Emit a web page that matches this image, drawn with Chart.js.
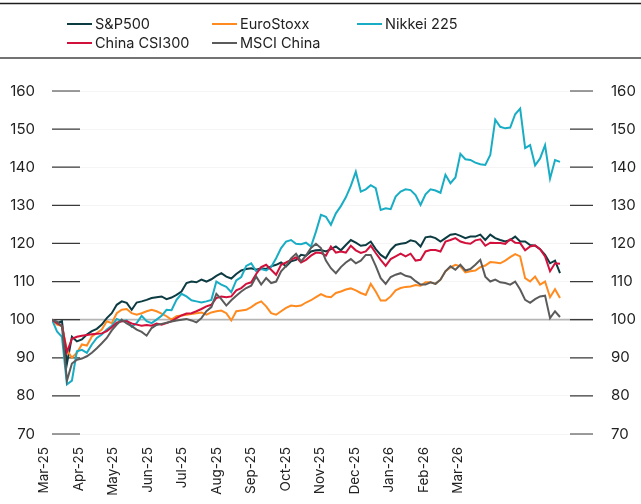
<!DOCTYPE html>
<html>
<head>
<meta charset="utf-8">
<script src="https://cdn.jsdelivr.net/npm/chart.js@4/dist/chart.umd.min.js"></script>
<style>
  html, body { margin: 0; padding: 0; background: #fff; }
  #wrap { width: 641px; height: 504px; }
</style>
</head>
<body>
<div id="wrap"><canvas id="chart" width="641" height="504"></canvas></div>
<script>
// months shown on the axis, Mar-25 .. Mar-26
const monthLabels = ['Mar-25', 'Apr-25', 'May-25', 'Jun-25', 'Jul-25', 'Aug-25', 'Sep-25',
  'Oct-25', 'Nov-25', 'Dec-25', 'Jan-26', 'Feb-26', 'Mar-26'];
const yTicks = [70, 80, 90, 100, 110, 120, 130, 140, 150, 160];

// indexed to 100
const sp500 = [100, 99.1, 99.6, 88.5, 95.5, 94.3, 94.8, 96.1, 97, 97.6, 98.7, 100.4, 101.7, 103.9, 104.8,
  104.4, 102.6, 104.5, 104.8, 105.2, 105.7, 105.9, 106.1, 105.4, 105.8, 106.5, 107.4, 109.6, 110, 109.8,
  110.5, 110, 110.6, 111.5, 112.2, 111.3, 110.8, 112, 112.9, 113.3, 113.5, 113.1, 113.5, 113.3, 114,
  114.4, 115, 114, 115.3, 115.7, 117, 116.8, 117.9, 118.2, 118.3, 117.9, 118.5, 119.2, 118.2, 119.6,
  120.9, 120.2, 119.4, 119.6, 120.5, 118.5, 117, 116.1, 118.3, 119.6, 119.9, 120.1, 120.8, 120.5, 119.2,
  121.6, 121.8, 121.4, 120.5, 121.4, 122.3, 122.5, 122, 121.4, 121.8, 121.8, 122.3, 120.9, 122.3, 121.4,
  120.9, 120.5, 120.9, 121.8, 120.5, 120.5, 119.6, 119.4, 118.5, 117, 114.8, 115.5, 112.2];
const euroStoxx = [100, 98.7, 98.3, 92, 90, 91.3, 93.5, 93.2, 95.6, 96.5, 97.4, 99.6, 99.1, 101.7, 102.6,
  102.8, 101.7, 101.3, 101.7, 102.2, 102.6, 102.2, 101.6, 100.9, 100, 100.9, 101.1, 101.3, 101.5, 101.7,
  101.9, 101.3, 101.9, 102.2, 102.4, 101.7, 99.8, 102.2, 102.4, 102.6, 103.3, 104.2, 104.8, 103.5, 101.7,
  101.3, 102.2, 103.1, 103.7, 103.5, 103.7, 104.5, 105.1, 105.9, 106.7, 106.1, 105.9, 107, 107.4, 107.9,
  108.2, 107.7, 107, 106.5, 109.4, 107.4, 105, 105, 106.1, 107.7, 108.3, 108.6, 108.7, 109.1, 108.9,
  109.8, 109.8, 109.4, 110.5, 112.7, 113.7, 114.4, 114, 112.4, 112.7, 112.9, 113.8, 114.2, 115.1, 115,
  114.8, 115.5, 116.4, 117.2, 116.6, 110.9, 110, 111.3, 109.2, 110, 105.9, 108, 105.7];
const nikkei = [100, 96.9, 95.5, 83, 84, 91.7, 92.1, 91.3, 93.5, 95.2, 96.1, 97.4, 98.4, 100.2, 99.6,
  99.8, 98.1, 99.1, 101, 99.6, 99.1, 100, 101, 102.6, 102.5, 105.2, 106.8, 106.1, 105.1, 104.8,
  104.5, 104.8, 105.2, 110, 109.2, 108.6, 107.2, 110.3, 111.2, 114.1, 114.8, 112.7, 113.3, 112.9, 113.8,
  116.1, 118.8, 120.5, 120.9, 119.9, 119.8, 120.2, 119.2, 123.1, 127.5, 127, 124.9, 127.9, 129.8, 132.1,
  135.1, 138.8, 133.6, 134.2, 135.3, 134.5, 128.8, 129.2, 129, 132.3, 133.6, 134.2, 134, 132.7, 130.1,
  132.9, 134.2, 133.9, 133.3, 138, 135.8, 137.3, 143.5, 142.1, 141.9, 141.2, 140.8, 140.6, 143.2, 152.5,
  150.6, 150.2, 150.4, 153.9, 155.4, 145, 145.8, 140.5, 142.3, 145.8, 137, 141.9, 141.4];
const csi300 = [100, 99.1, 98.4, 91.5, 95, 95.5, 95.8, 96, 96.2, 96.3, 96.4, 97, 98, 99.2, 99.6,
  99.6, 99, 98.7, 98.4, 98.6, 98.4, 99, 98.7, 99.1, 99.6, 100.4, 101.1, 101.6, 101.7, 102.2,
  102.8, 103.5, 103.9, 105.7, 106.1, 105.9, 106.1, 107.7, 108.3, 109.4, 109.8, 112, 113.8, 114.4, 113.1,
  111.8, 114.4, 115, 115.7, 116.4, 115, 115.7, 116.8, 117.6, 117.5, 116.8, 119.2, 117.6, 117.9, 117.6,
  119.4, 118.2, 117.5, 117.9, 119.4, 117.5, 115.7, 114.1, 115.9, 116.6, 117.3, 116.6, 117.3, 115.5, 115.7,
  117.9, 118.3, 118.3, 117.9, 120.5, 120.9, 121.4, 120.5, 120.1, 119.9, 120.8, 121.1, 119.4, 120.2, 120.1,
  120.1, 119.9, 121.1, 120.2, 120.1, 118.2, 119.2, 119.5, 118.5, 116.6, 112.7, 114.8, 114.7];
const msciChina = [100, 99.5, 98.2, 84, 88.5, 89.5, 89.8, 90.4, 91.3, 92.5, 93.8, 95.2, 97.2, 98.7, 100,
  99, 98.3, 97.4, 96.8, 95.8, 97.8, 98.6, 98.9, 99.2, 99.5, 99.8, 100, 100.2, 99.8, 99.3,
  100.4, 102.2, 103.3, 106.8, 105.4, 103.7, 105.1, 106.3, 107.4, 108.3, 108.9, 111.3, 109.2, 110.9, 109.6,
  110, 112.7, 114.1, 116.1, 117.3, 115.3, 116.8, 118.8, 119.9, 118.8, 115.5, 113.5, 112.2, 113.8, 115,
  115.9, 114.8, 115.5, 117, 117, 114.1, 110.9, 109.4, 111.2, 111.8, 112.2, 111.5, 111.2, 110.1, 109.2,
  109.2, 109.8, 109.4, 110.5, 112.7, 114, 113.1, 114.4, 112.9, 113.3, 114.4, 115.7, 111.3, 110, 110.5,
  109.8, 109.6, 109.2, 110, 107.9, 105.2, 104.4, 105.4, 106.1, 106.3, 100.4, 102.2, 100.7];

const series = [
  { label: 'S&P500', data: sp500, color: '#0c3b42' },
  { label: 'EuroStoxx', data: euroStoxx, color: '#ff8a1f' },
  { label: 'Nikkei 225', data: nikkei, color: '#18adc4' },
  { label: 'China CSI300', data: csi300, color: '#d2103c' },
  { label: 'MSCI China', data: msciChina, color: '#5b5b5b' }
];

const FONT = 'Inter, "Liberation Sans", Arial, sans-serif';
const TEXT = '#222';

// legend box, baseline at 100 and the little tick stubs on both sides
const decorPlugin = {
  id: 'decor',
  beforeDatasetsDraw(c) {
    const ctx = c.ctx;
    const y = c.scales.y;
    const area = c.chartArea;
    ctx.save();
    const y100 = y.getPixelForValue(100);
    ctx.strokeStyle = '#b5b5b5';
    ctx.lineWidth = 1.6;
    ctx.beginPath();
    ctx.moveTo(area.left, y100);
    ctx.lineTo(area.right, y100);
    ctx.stroke();
    ctx.strokeStyle = '#3a3a3a';
    ctx.lineWidth = 1.2;
    yTicks.forEach(v => {
      const py = y.getPixelForValue(v);
      ctx.beginPath();
      ctx.moveTo(area.left, py);
      ctx.lineTo(area.left + 28, py);
      ctx.moveTo(area.right - 23, py);
      ctx.lineTo(area.right, py);
      ctx.stroke();
    });
    ctx.restore();
  },
  afterDraw(c) {
    const ctx = c.ctx;
    ctx.save();
    ctx.strokeStyle = '#1e1e1e';
    ctx.lineWidth = 1.6;
    ctx.beginPath();
    ctx.moveTo(0, 3.5);
    ctx.lineTo(c.width, 3.5);
    ctx.stroke();
    ctx.strokeStyle = '#444';
    ctx.beginPath();
    ctx.moveTo(0, 58);
    ctx.lineTo(c.width, 58);
    ctx.stroke();

    const cols = [67, 212, 357];
    const rows = [24, 43];
    ctx.font = '14.5px ' + FONT;
    ctx.textBaseline = 'middle';
    ctx.fillStyle = TEXT;
    series.forEach((s, i) => {
      const x = cols[i % 3];
      const yy = rows[Math.floor(i / 3)];
      ctx.strokeStyle = s.color;
      ctx.lineWidth = 2;
      ctx.beginPath();
      ctx.moveTo(x, yy);
      ctx.lineTo(x + 25, yy);
      ctx.stroke();
      ctx.fillText(s.label, x + 28, yy + 1);
    });
    ctx.restore();
  }
};

const chart = document.querySelector('#chart');
const n = sp500.length;

new Chart(chart, {
  type: 'line',
  data: {
    datasets: series.map((s, i) => ({
      label: s.label,
      data: s.data.map((v, k) => ({ x: k, y: v })),
      borderColor: s.color,
      borderWidth: 2,
      pointRadius: 0,
      tension: 0,
      order: series.length - i
    }))
  },
  options: {
    responsive: false,
    animation: false,
    layout: { padding: { top: 91, left: 0, right: 0, bottom: 0 } },
    plugins: { legend: { display: false }, tooltip: { enabled: false } },
    scales: {
      x: {
        type: 'linear',
        display: false,
        min: 0,
        max: (n - 1) * 541 / 508
      },
      // the month axis is offset from the data in the original, Mar-26 sits well before the last point
      months: {
        type: 'linear',
        position: 'bottom',
        min: 0.232,
        max: 0.232 + 541 / 34.5,
        grid: { display: false, drawTicks: false },
        border: { display: false },
        afterBuildTicks: s => { s.ticks = monthLabels.map((_, i) => ({ value: i })); },
        afterFit: s => { s.height = 70; },
        ticks: {
          autoSkip: false,
          minRotation: 90,
          maxRotation: 90,
          padding: 13,
          color: TEXT,
          font: { family: FONT, size: 13.5 },
          callback: v => monthLabels[v]
        }
      },
      y: {
        position: 'left',
        min: 70,
        max: 160,
        afterBuildTicks: s => { s.ticks = yTicks.map(v => ({ value: v })); },
        afterFit: s => { s.width = 52; },
        grid: { color: '#f5f5f5', drawTicks: false },
        border: { display: false },
        ticks: { padding: 17, color: TEXT, font: { family: FONT, size: 15 } }
      },
      y2: {
        position: 'right',
        min: 70,
        max: 160,
        afterBuildTicks: s => { s.ticks = yTicks.map(v => ({ value: v })); },
        afterFit: s => { s.width = 48; },
        grid: { display: false, drawTicks: false },
        border: { display: false },
        ticks: { padding: 18, color: TEXT, font: { family: FONT, size: 15 } }
      }
    }
  },
  plugins: [decorPlugin]
});
</script>
</body>
</html>
